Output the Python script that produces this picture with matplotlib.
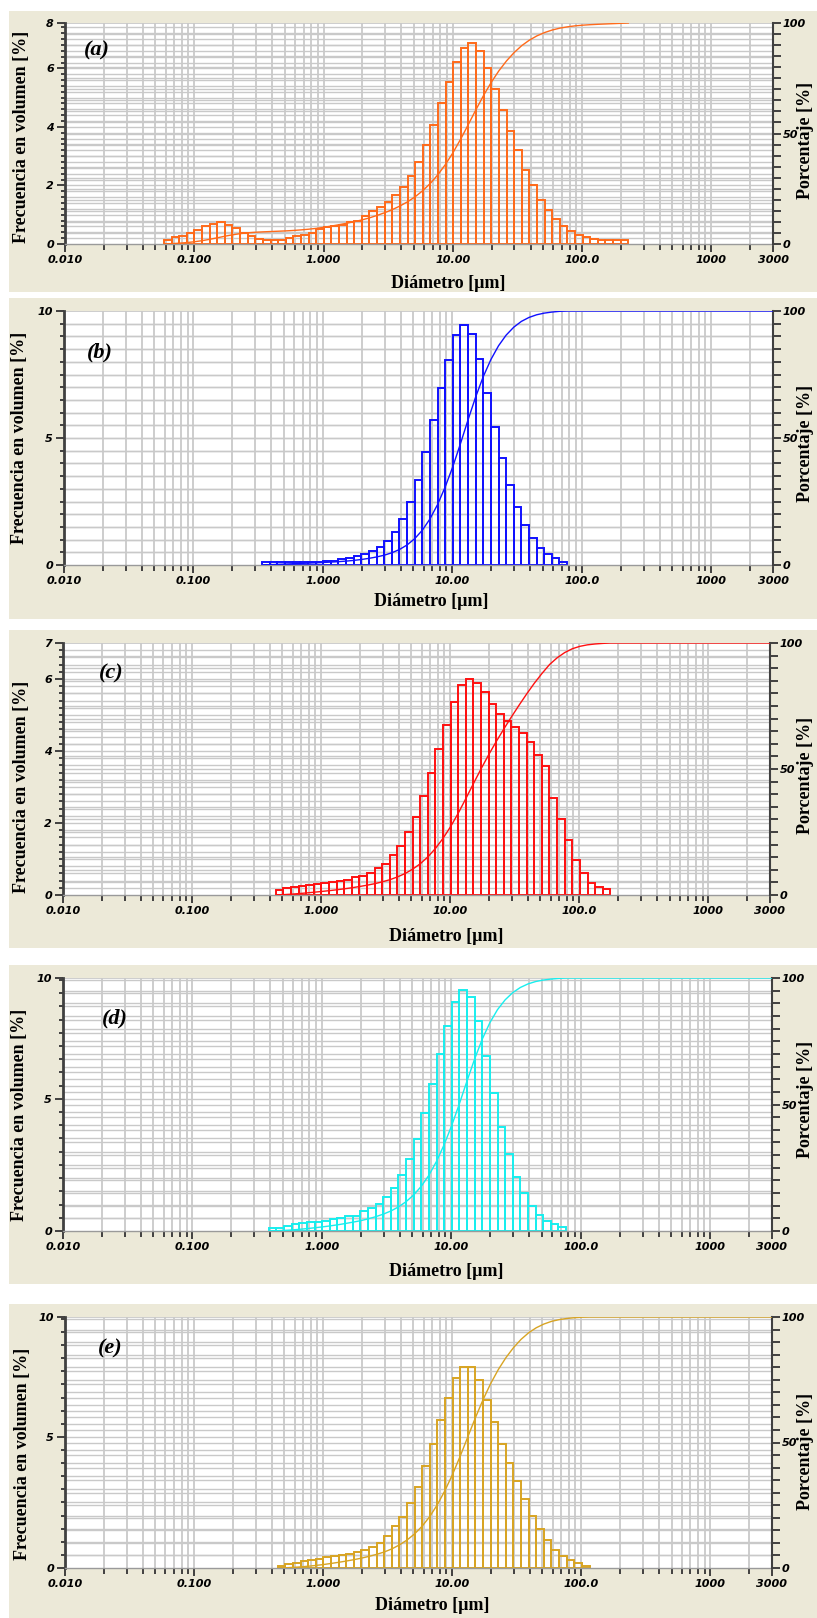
import numpy as np
import matplotlib.pyplot as plt
from matplotlib.patches import Rectangle
from matplotlib.ticker import FixedLocator, NullFormatter

W, H = 817, 1618
beige = '#ECE9D8'
grid = '#c9c9c9'
axis_col = '#333333'
serif = 'Liberation Serif'

# size classes of the analyser (channel edges, um)
channels = [0.0100, 0.01145, 0.01312, 0.01502, 0.01720, 0.01970, 0.02256, 0.02583,
            0.02958, 0.03388, 0.03880, 0.04443, 0.05088, 0.05827, 0.06674, 0.07643,
            0.08753, 0.1002, 0.1148, 0.1315, 0.1506, 0.1724, 0.1975, 0.2261, 0.2590,
            0.2966, 0.3397, 0.3890, 0.4455, 0.5102, 0.5843, 0.6691, 0.7663, 0.8776,
            1.005, 1.151, 1.318, 1.509, 1.729, 1.980, 2.267, 2.596, 2.973, 3.405,
            3.900, 4.466, 5.115, 5.857, 6.708, 7.682, 8.798, 10.08, 11.54, 13.21,
            15.13, 17.33, 19.85, 22.73, 26.03, 29.81, 34.14, 39.10, 44.78, 51.28,
            58.73, 67.26, 77.02, 88.21, 101.0, 115.7, 132.5, 151.7, 173.7, 199.0,
            227.9, 261.0, 298.9, 342.3, 392.0, 448.9, 514.1, 588.8, 674.3, 772.2,
            884.3, 1013, 1160, 1328, 1521, 1742, 1995, 2285, 2616, 3000]

# volume frequency [%] per channel, starting at channel index first_*
first_a = 13
freq_a = [0.15, 0.23, 0.28, 0.38, 0.49, 0.63, 0.70, 0.74, 0.64, 0.55,
          0.38, 0.26, 0.18, 0.15, 0.15, 0.15, 0.20, 0.26, 0.32, 0.38,
          0.51, 0.57, 0.63, 0.66, 0.74, 0.80,
          0.95, 1.14, 1.25, 1.44, 1.66, 1.94, 2.34, 2.81, 3.38, 4.05,
          4.80, 5.53, 6.22, 6.71, 6.85, 6.58, 6.00, 5.31, 4.57, 3.86,
          3.20, 2.53, 2.00, 1.52, 1.17, 0.87, 0.60, 0.46, 0.31, 0.23,
          0.18, 0.15, 0.15, 0.15, 0.15]

first_b = 26
freq_b = [0.13, 0.13, 0.12, 0.12, 0.12, 0.12, 0.12, 0.13, 0.16, 0.17,
          0.22, 0.28, 0.36, 0.45, 0.55,
          0.70, 0.96, 1.29, 1.80, 2.48, 3.35, 4.46, 5.71, 6.96, 8.07,
          9.06, 9.45, 9.09, 8.11, 6.76, 5.45, 4.23, 3.15, 2.30, 1.57,
          1.05, 0.66, 0.42, 0.29, 0.13]

first_c = 28
freq_c = [0.14, 0.19, 0.23, 0.26, 0.28, 0.31, 0.32, 0.35, 0.39, 0.43,
          0.49, 0.53, 0.60, 0.74,
          0.86, 1.11, 1.36, 1.74, 2.17, 2.75, 3.38, 4.06, 4.72, 5.35,
          5.83, 6.00, 5.90, 5.63, 5.31, 5.03, 4.84, 4.66, 4.49, 4.26,
          3.89, 3.59, 2.70, 2.11, 1.53, 0.97, 0.60, 0.34, 0.23, 0.16]

first_d = 27
freq_d = [0.11, 0.13, 0.18, 0.25, 0.29, 0.33, 0.35, 0.39, 0.44, 0.51,
          0.55, 0.58,
          0.74, 0.86, 1.03, 1.27, 1.64, 2.10, 2.71, 3.47, 4.45, 5.56,
          6.71, 7.76, 8.66, 9.10, 8.84, 7.96, 6.63, 5.21, 3.93, 2.91,
          2.06, 1.43, 0.95, 0.60, 0.39, 0.27, 0.16]

first_e = 28
freq_e = [0.09, 0.15, 0.20, 0.27, 0.31, 0.36, 0.43, 0.46, 0.50, 0.55,
          0.62, 0.70, 0.80, 0.95,
          1.23, 1.60, 1.95, 2.46, 3.09, 3.87, 4.74, 5.65, 6.48, 7.23,
          7.65, 7.65, 7.17, 6.41, 5.56, 4.74, 4.01, 3.32, 2.63, 2.00,
          1.47, 1.07, 0.69, 0.46, 0.31, 0.20, 0.08]

xticks = [0.01, 0.1, 1, 10, 100, 1000, 3000]
xtick_labels = ['0.010', '0.100', '1.000', '10.00', '100.0', '1000', '3000']

fig = plt.figure(figsize=(W / 100, H / 100), dpi=100)


def px_rect(x0, x1, y0, y1):
    return [x0 / W, 1 - y1 / H, (x1 - x0) / W, (y1 - y0) / H]


def bold_italic(labels):
    plt.setp(labels, fontweight='bold', fontstyle='italic', fontsize=8,
             family='DejaVu Sans')


def panel(frame, area, first, freq, color, ymax, yticks, ylabels, ystep,
          letter, letter_xy, ylab_xy, xlab_xy, rlab_y, tail=True):
    fy0, fy1 = frame
    fig.add_artist(Rectangle((9 / W, 1 - fy1 / H), 1 - 9 / W, (fy1 - fy0) / H,
                             transform=fig.transFigure, facecolor=beige,
                             edgecolor='none', zorder=-10))
    ax = fig.add_axes(px_rect(*area))
    ax.set_facecolor('white')
    ax.set_xscale('log')
    ax.set_xlim(0.01, 3000)
    ax.set_ylim(0, ymax)

    # log grid at 1..9 of each decade
    minors = [m * 10.0 ** e for e in range(-2, 4) for m in range(1, 10)]
    minors = [v for v in minors if 0.01 <= v <= 3000]
    for v in minors:
        ax.axvline(v, color=grid, lw=1.3, zorder=0)
    for y in np.arange(ystep, ymax, ystep):
        ax.axhline(y, color=grid, lw=1.0, zorder=0)
    for p in range(5, 100, 5):
        ax.axhline(ymax * p / 100, color=grid, lw=1.0, zorder=0)
    ax.axhline(ymax, color=grid, lw=1.3, zorder=0)

    n = len(freq)
    lo = channels[first:first + n]
    hi = channels[first + 1:first + n + 1]
    ax.bar(lo, freq, width=np.subtract(hi, lo), align='edge', fill=False,
           edgecolor=color, linewidth=1.4, zorder=2)

    ax.set_xticks(xticks)
    ax.set_xticklabels(xtick_labels)
    ax.xaxis.set_minor_locator(FixedLocator(minors))
    ax.xaxis.set_minor_formatter(NullFormatter())
    ax.set_yticks(yticks)
    ax.set_yticklabels(ylabels)
    ax.yaxis.set_minor_locator(FixedLocator(np.arange(0, ymax, ystep)))
    ax.tick_params(which='major', length=6, width=1.3, color=axis_col, pad=2)
    ax.tick_params(which='minor', length=3, width=1.3, color=axis_col)
    ax.tick_params(axis='x', which='minor', length=4)
    bold_italic(ax.get_xticklabels() + ax.get_yticklabels())
    for s in ['top', 'right']:
        ax.spines[s].set_visible(False)
    ax.spines['left'].set_color('#404040')
    ax.spines['left'].set_linewidth(2)
    ax.spines['bottom'].set_color('#9a9a9a')
    ax.spines['bottom'].set_linewidth(1)

    # cumulative undersize curve on the right axis
    cum = np.concatenate([[0], np.cumsum(freq)]) / np.sum(freq) * 100
    xs = list(channels[first:first + n + 1])
    if tail:
        xs.append(3000)
        cum = np.append(cum, 100)
    ax2 = ax.twinx()
    ax2.set_ylim(0, 100)
    ax2.plot(xs, cum, color=color, lw=1.0, zorder=3)
    ax2.set_yticks([0, 50, 100])
    ax2.yaxis.set_minor_locator(FixedLocator(range(5, 100, 5)))
    ax2.tick_params(which='both', length=6, width=1.3, color=axis_col, pad=1)
    bold_italic(ax2.get_yticklabels())
    for s in ['top', 'left', 'bottom']:
        ax2.spines[s].set_visible(False)
    ax2.spines['right'].set_color('#404040')
    ax2.spines['right'].set_linewidth(1.5)

    fig.text(ylab_xy[0] / W, 1 - ylab_xy[1] / H, 'Frecuencia en volumen [%]',
             rotation=90, ha='center', va='center', fontsize=13,
             fontweight='bold', family=serif)
    fig.text(xlab_xy[0] / W, 1 - xlab_xy[1] / H, 'Diámetro [µm]',
             ha='center', va='center', fontsize=13, fontweight='bold',
             family=serif)
    fig.text(806 / W, 1 - rlab_y / H, 'Porcentaje [%]',
             rotation=90, ha='center', va='center', fontsize=13,
             fontweight='bold', family=serif)
    fig.text(letter_xy[0] / W, 1 - letter_xy[1] / H, letter, ha='center',
             va='center', fontsize=16, fontweight='bold', fontstyle='italic',
             family=serif)


panel((11, 292), (65, 773, 23, 244), first_a, freq_a, '#ff6a1a',
      7.55, [0, 2, 4, 6, 7.55], ['0', '2', '4', '6', '8'], 0.2,
      '(a)', (97, 50), (22, 137), (448, 283), 140, tail=False)
panel((298, 619), (64, 773, 311, 565), first_b, freq_b, '#1010ff',
      10, [0, 5, 10], ['0', '5', '10'], 0.5,
      '(b)', (100, 352), (20, 438), (431, 602), 443)
panel((630, 948), (63, 770, 643, 895), first_c, freq_c, '#ff1010',
      7, [0, 2, 4, 6, 7], ['0', '2', '4', '6', '7'], 0.2,
      '(c)', (111, 673), (22, 787), (446, 936), 775)
panel((965, 1284), (63, 772, 978, 1231), first_d, freq_d, '#18eeee',
      9.57, [0, 5, 9.57], ['0', '5', '10'], 0.5,
      '(d)', (115, 1018), (20, 1115), (446, 1271), 1099)
panel((1304, 1618), (65, 772, 1317, 1568), first_e, freq_e, '#d8a423',
      9.57, [0, 5, 9.57], ['0', '5', '10'], 0.5,
      '(e)', (110, 1348), (23, 1454), (432, 1606), 1451)

fig.savefig('out.png', dpi=100, facecolor='white')
